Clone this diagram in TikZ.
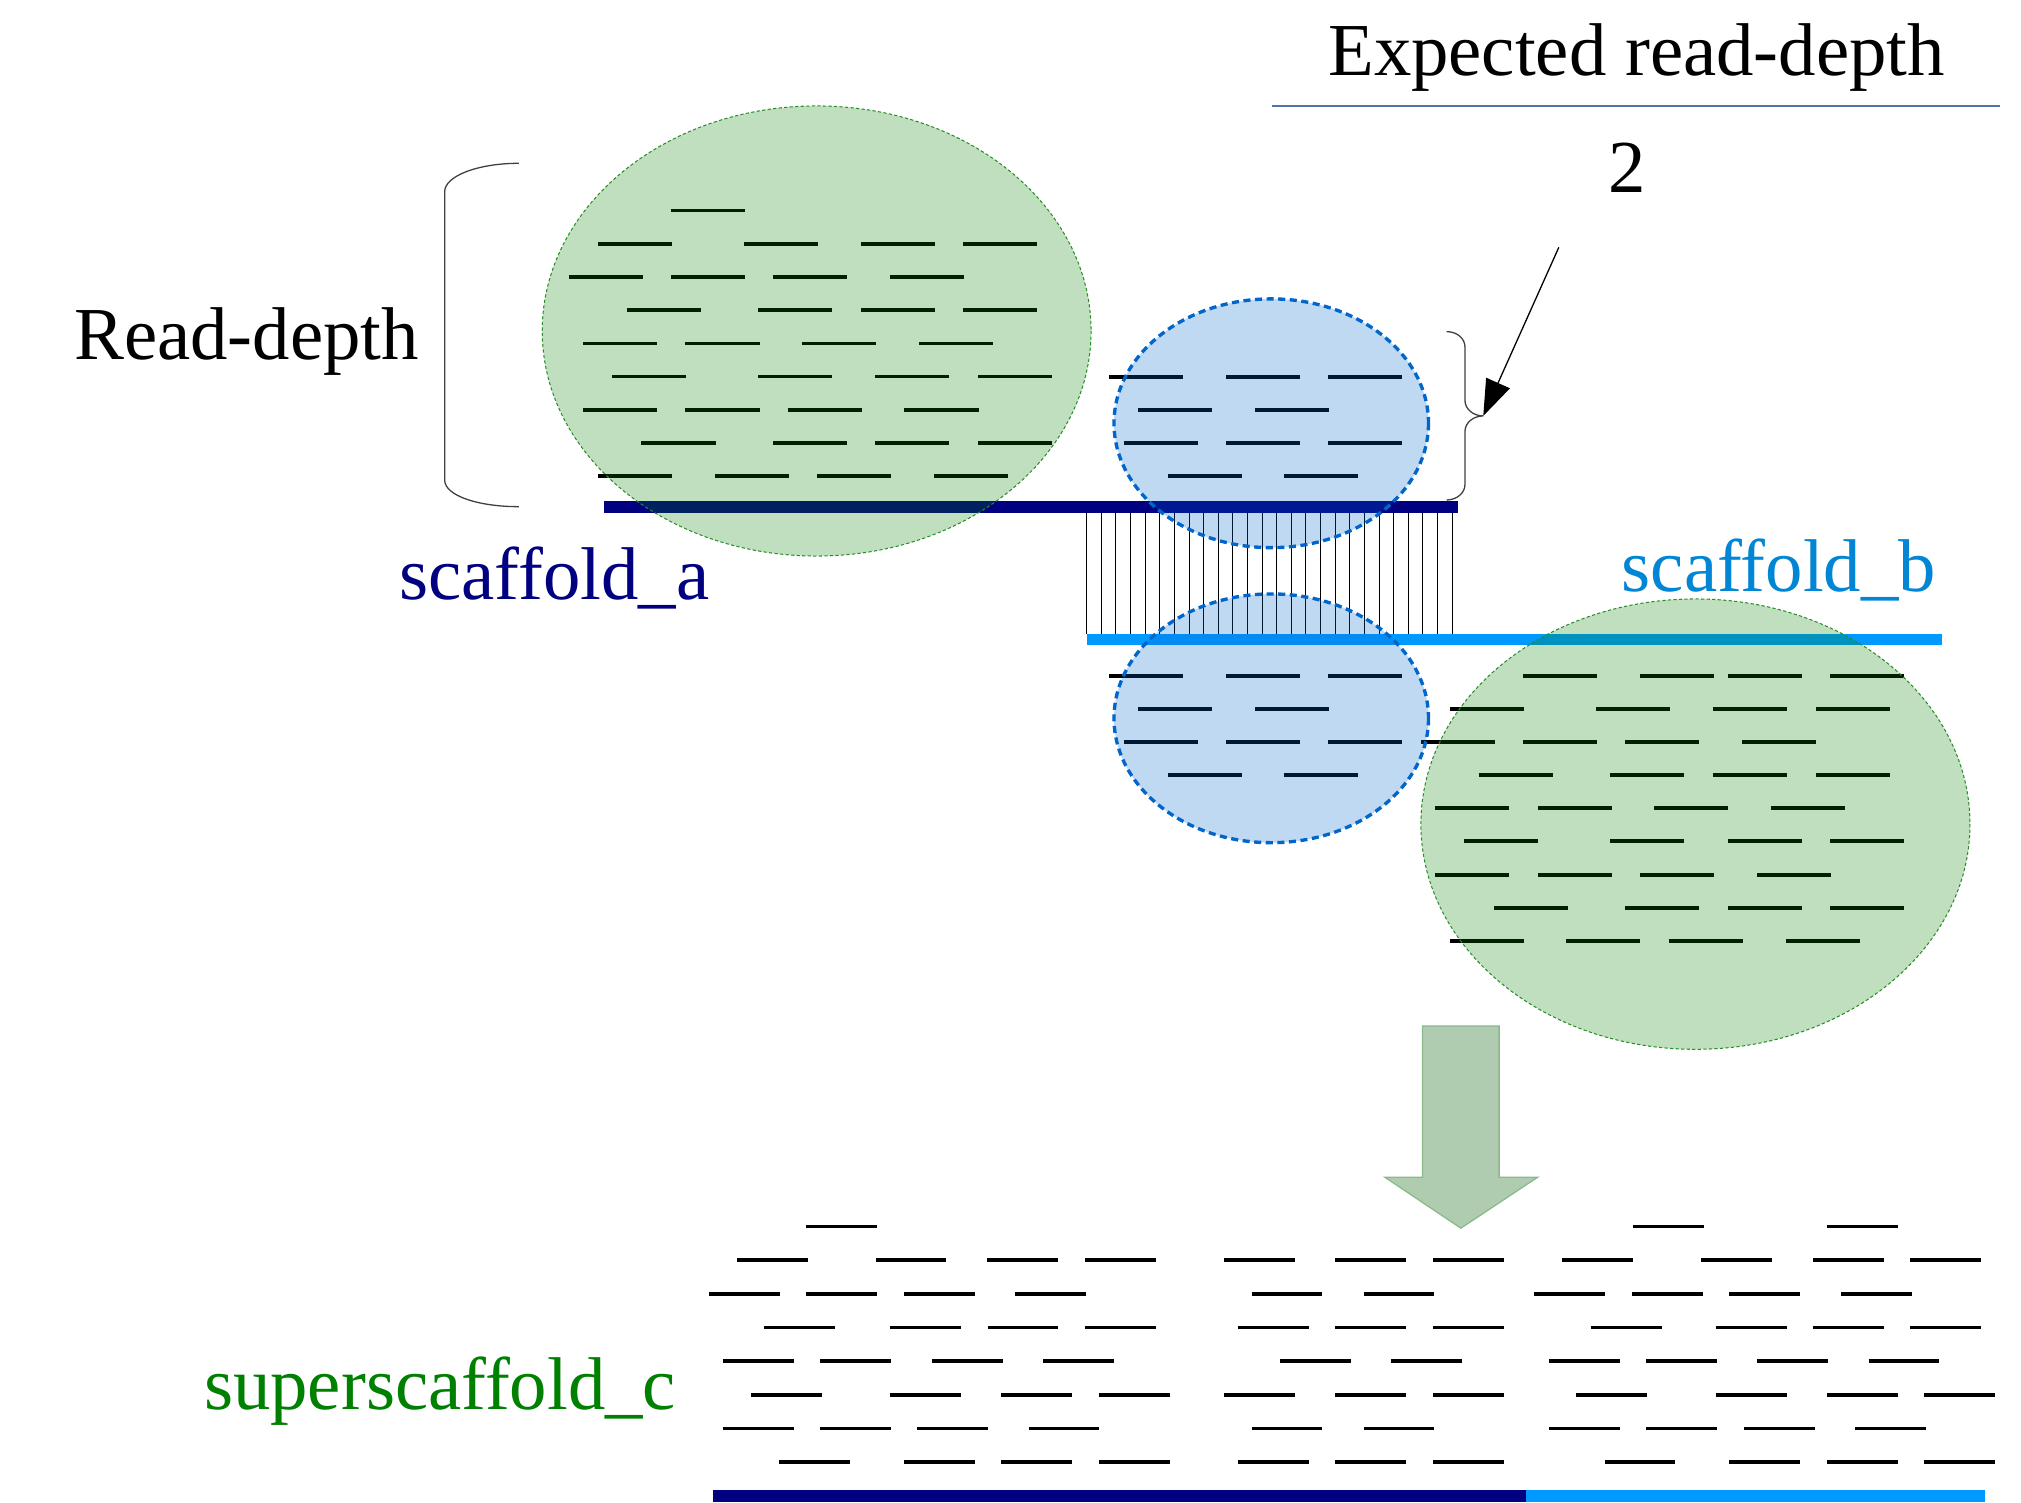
\documentclass[tikz,border=0pt]{standalone}
\usepackage{fontspec}
\setmainfont{Liberation Serif}
\usetikzlibrary{arrows.meta}

\definecolor{navyline}{RGB}{0,0,128}
\definecolor{skyline}{RGB}{0,153,255}
\definecolor{skytext}{RGB}{0,134,212}
\definecolor{poolgreen}{RGB}{0,128,0}
\definecolor{pooledge}{RGB}{40,140,40}
\definecolor{gapblue}{RGB}{0,102,204}
\definecolor{titleline}{RGB}{80,115,165}
\definecolor{mergefill}{RGB}{176,204,176}
\definecolor{mergeedge}{RGB}{140,185,140}

\begin{document}
\begin{tikzpicture}[x=1pt, y=-1pt,
		lbl/.style={inner sep=0pt, anchor=base, font=\fontsize{58}{62}\selectfont},
		readbar/.style={line width=2.9pt},
		scafline/.style={line width=8.8pt},
		pairline/.style={line width=0.7pt},
		pool/.style={draw=pooledge, line width=0.8pt, dash pattern=on 2.5pt off 1.8pt, fill=poolgreen, fill opacity=0.25},
		gappool/.style={draw=gapblue, line width=2.6pt, dash pattern=on 5.5pt off 3.5pt, fill=gapblue, fill opacity=0.25},
		brackline/.style={draw=black!75, line width=1pt},
		pointer/.style={line width=1pt, -{Triangle[length=28pt,width=20pt]}},
		merge/.style={fill=mergefill, draw=mergeedge, line width=1pt}]
			\useasboundingbox (0,0) rectangle (1568,1166);

			% scaffolds
			\draw[scafline, navyline] (468.6,393.3) -- (1130.9,393.3); % a
			\draw[scafline, skyline] (843.1,496.4) -- (1506.6,496.4); % b
			\draw[scafline, navyline] (553.4,1160.7) -- (1183.9,1160.7); % c
			\draw[scafline, skyline] (1183.9,1160.7) -- (1539.9,1160.7);

			% read pairs across the gap
			\foreach \i in {0,...,25}
				\draw[pairline] (843.1+\i*11.34,397.7) -- ++(0,94.1);

			% reads on scaffold_a
			\foreach \y/\xs in {163.4/{520.4}, 189.3/{463.7,577.2,667.7,747.1},
					215.1/{441.3,520.4,599.6,690.4}, 240.7/{486.4,588.2,667.7,747.1},
					266.6/{452.3,531.8,622.3,713}, 292.2/{475,588.2,679,758.5},
					318.1/{452.3,531.8,611,701.7}, 343.7/{497.7,599.6,679,758.5},
					369.5/{463.7,554.5,634,724.4}}
				\foreach \x in \xs
					\draw[readbar] (\x,\y) -- ++(57.5,0);
			% reads at the ends (gap)
			\foreach \dy in {0,231.7}
				\foreach \y/\xs in {292.5/{860.7,951.2,1030.6}, 318.1/{883.2,973.7},
						343.9/{872,951.2,1030.6}, 369.5/{905.9,996.4}}
					\foreach \x in \xs
						\draw[readbar] (\x,\y+\dy) -- ++(57.5,0);
			% reads on scaffold_b
			\foreach \y/\xs in {524.2/{1181.5,1272.1,1340.4,1419.6}, 549.8/{1125.1,1238,1329,1408.7},
					575.7/{1102.3,1181.5,1260.8,1351.3}, 601.3/{1147.4,1249.4,1329,1408.7},
					627.1/{1113.3,1192.9,1283.5,1374.1}, 652.7/{1136,1249.4,1340.4,1419.6},
					678.6/{1113.3,1192.9,1272.1,1363.2}, 704.5/{1159.2,1260.8,1340.4,1419.6},
					730.1/{1125.1,1215.2,1294.9,1385.5}}
				\foreach \x in \xs
					\draw[readbar] (\x,\y) -- ++(57.5,0);
			% reads on superscaffold_c
			\foreach \y/\xs in {951.6/{625.6,1266.7,1417.3},
					977.7/{571.9,679.3,765.5,841.8,949.8,1036,1111.6,1211.7,1319.8,1406.7,1482.2},
					1003.8/{550,625.6,701.2,787.4,971,1057.9,1190.5,1266.1,1341.7,1428.5},
					1030/{593.1,690.6,766.2,841.8,960.4,1036,1111.6,1234.3,1331.1,1406.7,1482.2},
					1056.1/{560.7,636.2,723.1,809.3,992.9,1079.1,1201.8,1277.4,1363.5,1449.7},
					1082.2/{582.5,690.6,776.8,852.4,949.8,1036,1111.6,1223,1331.1,1417.3,1492.8},
					1108.3/{560.7,636.2,711.8,798,971,1057.9,1201.8,1277.4,1353,1439.1},
					1134.4/{604.4,701.2,776.8,852.4,960.4,1036,1111.6,1244.9,1341.7,1417.3,1492.8}}
				\foreach \x in \xs
					\draw[readbar] (\x,\y) -- ++(55,0);

			% ellipses
			\draw[pool] (633.6,256.8) circle [x radius=212.9, y radius=174.6];
			\draw[pool] (1315.4,639.4) circle [x radius=213, y radius=174.7];
			\draw[gappool] (986.3,328.4) circle [x radius=122, y radius=96.5];
			\draw[gappool] (986.3,557.3) circle [x radius=122, y radius=96.5];

			% brackets
			\draw[brackline] (402.6,126.7) .. controls (370.7,126.7) and (345,136.6) .. (345,148.7) -- (345,372.4)
				.. controls (345,384.5) and (370.7,393.1) .. (402.6,393.1);
			\coordinate (bracetip) at (1150.8,322.7);
			\draw[brackline] (1122.4,257.3) .. controls (1130.2,257.3) and (1136.6,262.4) .. (1136.6,269.3) -- (1136.6,310.7)
				.. controls (1136.6,317.3) and (1142.9,322.7) .. (bracetip)
				.. controls (1142.9,322.7) and (1136.6,328.1) .. (1136.6,334.7) -- (1136.6,375.9)
				.. controls (1136.6,382.5) and (1130.2,387.9) .. (1122.4,387.9);
			\coordinate (pointstart) at (1209.4,191.9);
			\draw[pointer] (pointstart) -- (bracetip);

			% merge arrow
			\draw[merge] (1103.7,796) -- (1163.1,796) -- (1163.1,913.4) -- (1192.9,913.4) -- (1133.4,952.9)
				-- (1074.5,913.4) -- (1103.7,913.4) -- cycle;

			% labels
			\node[lbl] (title) at (1269.7,58.2) {Expected read-depth};
			\draw[titleline, line width=1.2pt] (986.8,82.2) -- (1552,82.2);
			\node[lbl] (two) at (1262.5,149.5) {2};
			\node[lbl] (depth) at (191.3,279.3) {Read-depth};
			\node[lbl, navyline] (sa) at (430,465.5) {scaffold\_a};
			\node[lbl, skytext] (sb) at (1380.2,459) {scaffold\_b};
			\node[lbl, poolgreen] (sc) at (341.4,1093.9) {superscaffold\_c};
		\end{tikzpicture}
\end{document}
